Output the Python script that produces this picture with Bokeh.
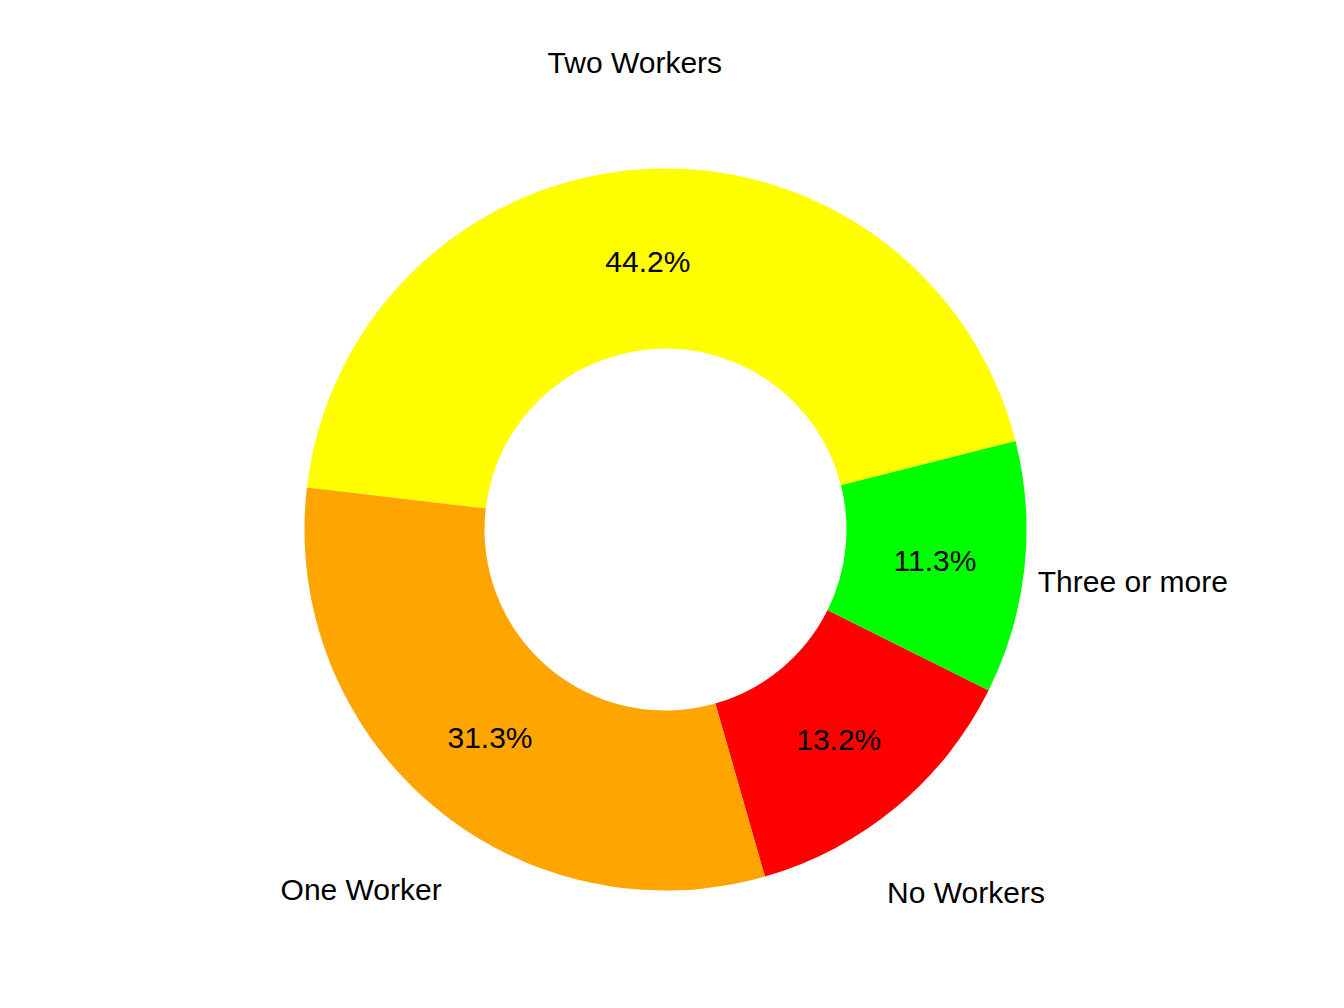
import math
from bokeh.plotting import figure
from bokeh.models import Range1d, ColumnDataSource
from bokeh.core.properties import value
from bokeh.embed import file_html
from bokeh.resources import INLINE

categories = ["Two Workers", "Three or more", "No Workers", "One Worker"]
percents = [44.2, 11.3, 13.2, 31.3]
pct_labels = ["44.2%", "11.3%", "13.2%", "31.3%"]
colors = ["#FFFF00", "#00FF00", "#FF0000", "#FFA500"]

START_DEG = 173.3
R_IN, R_OUT = 181, 361
R_PCT = 271
R_CAT = 470

total = sum(percents)
starts, ends, mids = [], [], []
a = math.radians(START_DEG)
for v in percents:
    span = 2 * math.pi * v / total
    starts.append(a - span)
    ends.append(a)
    mids.append(a - span / 2)
    a -= span

src = ColumnDataSource(dict(
    cat=categories, pct=pct_labels, color=colors,
    start=starts, end=ends,
    px=[R_PCT * math.cos(m) for m in mids], py=[R_PCT * math.sin(m) for m in mids],
    cx=[R_CAT * math.cos(m) for m in mids], cy=[R_CAT * math.sin(m) for m in mids],
))

W, H = 1328, 992
OFF = 0
cx_page, cy_page = 665, 529
p = figure(width=W, height=H, output_backend="svg", toolbar_location=None,
           x_range=Range1d(OFF - cx_page, OFF + W - cx_page),
           y_range=Range1d(-(OFF + H - cy_page), cy_page - OFF),
           min_border=0)
p.axis.visible = False
p.grid.visible = False
p.outline_line_color = None
p.background_fill_color = "white"
p.border_fill_color = "white"

p.annular_wedge(x=0, y=0, inner_radius=R_IN, outer_radius=R_OUT,
                start_angle="start", end_angle="end", fill_color="color",
                line_color=None, source=src)

p.text(x="px", y="py", text="pct", source=src, text_align="center",
       text_baseline="middle", text_font=value("Liberation Sans"),
       text_font_size="30px", text_color="black", y_offset=2)
p.text(x="cx", y="cy", text="cat", source=src, text_align="center",
       text_baseline="middle", text_font=value("Liberation Sans"),
       text_font_size="30px", text_color="black", y_offset=2)

open("out.html", "w").write(file_html(p, INLINE))
